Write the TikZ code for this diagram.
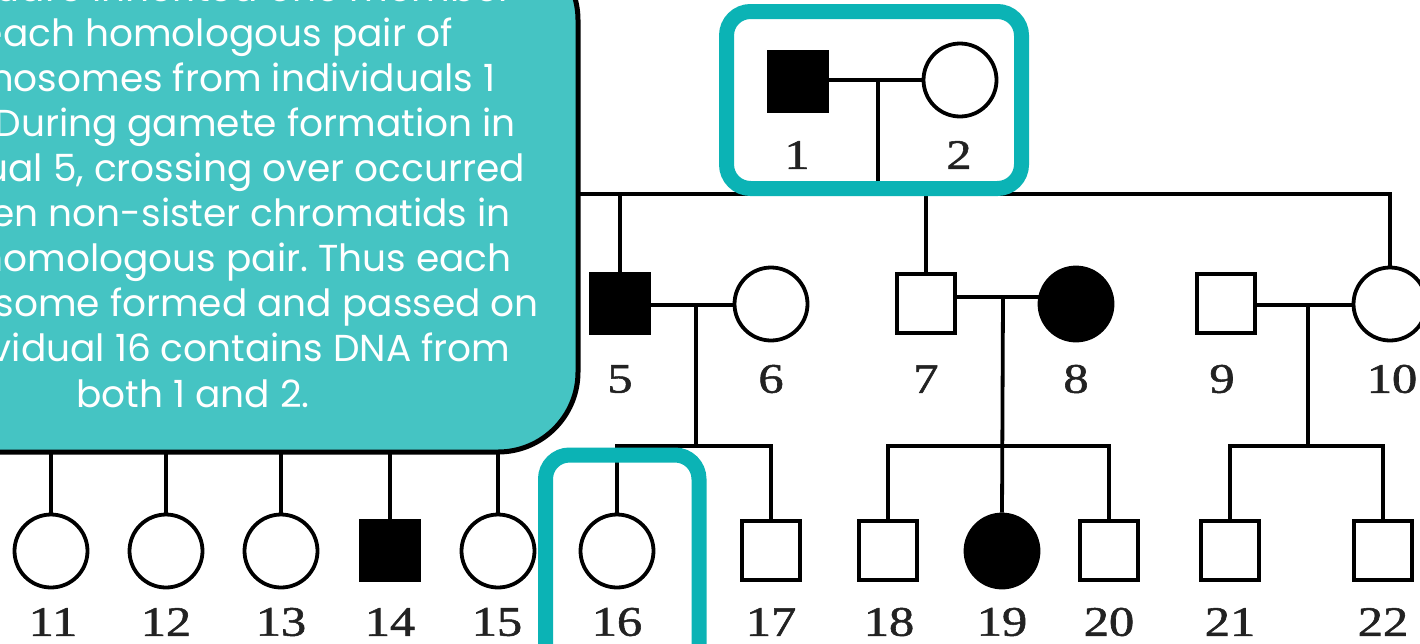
\documentclass[tikz,border=0pt]{standalone}
\usepackage{fontspec}
\setmainfont{Liberation Serif}
\newfontfamily\numfont{Liberation Serif}[FakeBold=1.2]
\newfontfamily\notefont{Poppins}
\usetikzlibrary{backgrounds}
\definecolor{noteteal}{HTML}{45C4C3}
\definecolor{markteal}{HTML}{0BB3B5}
\definecolor{numgray}{HTML}{222222}
\frenchspacing

\begin{document}
\begin{tikzpicture}[x=1pt,y=-1pt,
  male/.style={shape=rectangle,draw=black,line width=4pt,fill=white,
    minimum width=58pt,minimum height=59pt,inner sep=0pt},
  female/.style={shape=circle,draw=black,line width=3.8pt,fill=white,
    minimum size=73pt,inner sep=0pt},
  affected/.style={fill=black},
  lab/.style={text=numgray,inner sep=0pt,font=\numfont\fontsize{42}{42}\selectfont},
  link/.style={draw=black,line width=3.8pt},
  ring/.style={draw=markteal,line width=15pt,rounded corners=24pt},
  note/.style={draw=black,fill=noteteal,line width=5pt,rounded corners=80pt},
]
\useasboundingbox (0,0) rectangle (1420,643);
\clip (0,0) rectangle (1420,643);

% generation I
\node[male,affected] (p1) at (797.5,81.5) {};
\node[female] (p2) at (960,80) {};
% generation II
\node[male,affected] (p5) at (620,303.5) {};
\node[female] (p6) at (771,304) {};
\node[male] (p7) at (926,303.5) {};
\node[female,affected] (p8) at (1076,304) {};
\node[male] (p9) at (1226,303.5) {};
\node[female] (p10) at (1390,304) {};
% generation III
\node[female] (p11) at (51,551) {};
\node[female] (p12) at (166,551) {};
\node[female] (p13) at (281,551) {};
\node[male,affected] (p14) at (390,550.5) {};
\node[female] (p15) at (498,551) {};
\node[female] (p16) at (617,551) {};
\node[male] (p17) at (771,550.5) {};
\node[male] (p18) at (888,550.5) {};
\node[female,affected] (p19) at (1002,551) {};
\node[male] (p20) at (1109,550.5) {};
\node[male] (p21) at (1230,550.5) {};
\node[male] (p22) at (1383,550.5) {};

% individual numbers
\foreach \n/\x/\y in {1/797/155,2/959/155,
    5/620/379,6/771/379,7/926/379,8/1076/379,9/1222/379,10/1392/379,
    11/53/622,12/166/622,13/281/622,14/390/622,15/497/622,16/617/622,
    17/771/622,18/889/622,19/1002/622,20/1109/622,21/1230/622,22/1383/622}
  \node[lab] (n\n) at (\x,\y) {\scalebox{1.2}[1]{\n}};

% marriage and descent points
\coordinate (m12) at (878,80);
\coordinate (m56) at (696,305);
\coordinate (m78) at (1003,297);
\coordinate (m910) at (1308,305);
\coordinate (sibA) at (540,194);
\coordinate (sibB) at (0,446);
\coordinate (sibL) at (0,440);

\begin{pgfonlayer}{background}
  \fill[white] (0,0) rectangle (1420,643);
  % couple 1-2 and their children
  \draw[link] (p1 |- m12) -- (p2 |- m12);
  \draw[link] (m12) -- (m12 |- sibA);
  \draw[link] (sibA) -- (p10 |- sibA) -- (p10.north);
  \draw[link] (p5 |- sibA) -- (p5.north);
  \draw[link] (p7 |- sibA) -- (p7.north);
  % couple 5-6
  \draw[link] (p5 |- m56) -- (p6 |- m56);
  \draw[link] (m56) -- (m56 |- sibB);
  \draw[link] (p16.north) -- (p16 |- sibB) -- (p17 |- sibB) -- (p17.north);
  % couple 7-8
  \draw[link] (p7 |- m78) -- (p8 |- m78);
  \draw[link] (m78) -- (p19.north);
  \draw[link] (p18.north) -- (p18 |- sibB) -- (p20 |- sibB) -- (p20.north);
  % couple 9-10
  \draw[link] (p9 |- m910) -- (p10 |- m910);
  \draw[link] (m910) -- (m910 |- sibB);
  \draw[link] (p21.north) -- (p21 |- sibB) -- (p22 |- sibB) -- (p22.north);
  % sibship of 11-15
  \foreach \k in {11,12,13,14,15}
    \draw[link] (p\k |- sibL) -- (p\k.north);
\end{pgfonlayer}

% highlight frames
\draw[ring] (726.5,11.5) rectangle (1021.5,188.5);
\draw[ring] (545.5,455) rectangle (699,700);

% explanatory note
\draw[note] (-192,-60) rectangle (578,452);
\node[text=white,inner sep=0pt,align=center,anchor=base,
  font=\notefont\fontsize{37.5}{45.1}\selectfont] (txt) at (193,407)
  {The square inherited one member\\
   of each homologous pair of\\
   chromosomes from individuals 1\\
   and 2. During gamete formation in\\
   individual 5, crossing over occurred\\
   between non-sister chromatids in\\
   each homologous pair. Thus each\\
   chromosome formed and passed on\\
   to individual 16 contains DNA from\\
   both 1 and 2.};
\end{tikzpicture}
\end{document}
